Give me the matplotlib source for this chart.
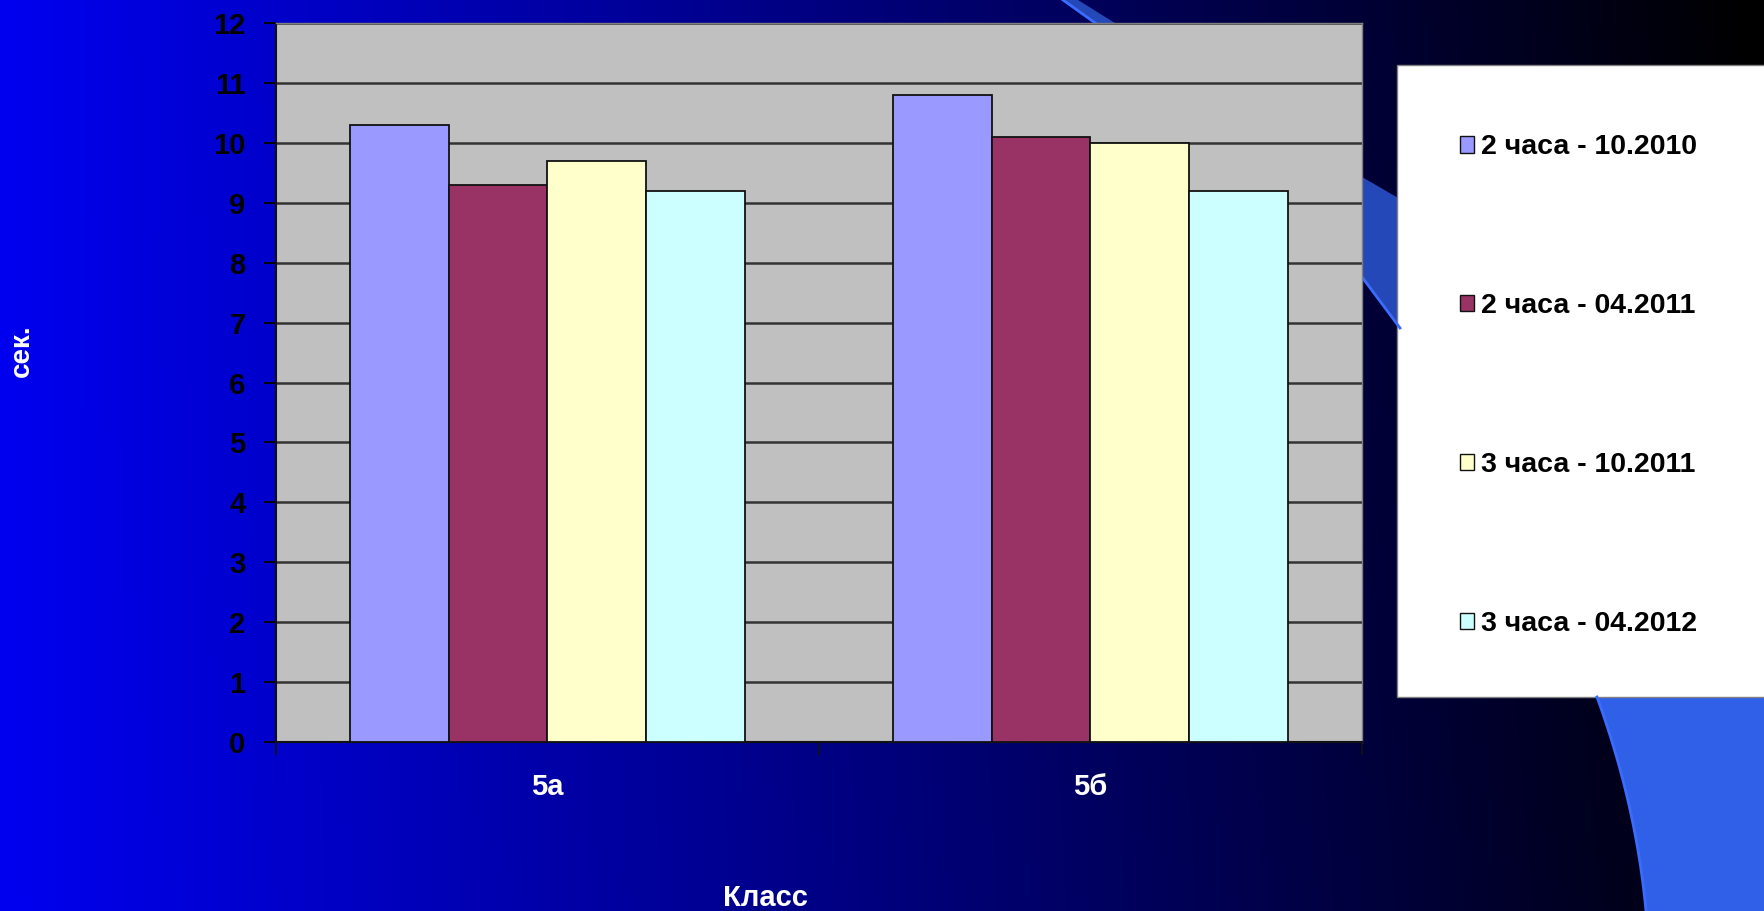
"""Grouped bar chart: reading speed by class, on a blue slide background."""
import matplotlib.pyplot as plt
import numpy as np
from matplotlib.patches import Polygon, Rectangle

plt.rcParams['font.family'] = ['Liberation Sans', 'DejaVu Sans']
plt.rcParams['font.weight'] = 'bold'

categories = ['5а', '5б']
series_labels = ['2 часа - 10.2010', '2 часа - 04.2011',
                 '3 часа - 10.2011', '3 часа - 04.2012']
values = [
    [10.3, 10.8],
    [9.3, 10.1],
    [9.7, 10.0],
    [9.2, 9.2],
]
colors = ['#9999FF', '#993366', '#FFFFCC', '#CCFFFF']
y_ticks = list(range(0, 13))

W, H = 1765, 911
fig = plt.figure(figsize=(W / 100, H / 100), dpi=100)

# background: horizontal gradient plus decorative swooshes (pixel coords)
bg = fig.add_axes([0, 0, 1, 1], zorder=0)
bg.set_xlim(0, W)
bg.set_ylim(H, 0)
bg.axis('off')
xs = np.linspace(0, 1, 400)
yy = np.linspace(0, 1, 50)[:, None]
blue = 240 - 230 * xs[None, :] - 12 * (1 - yy) * xs[None, :]
grad = np.zeros((50, 400, 3))
grad[..., 2] = np.clip(blue, 0, 255) / 255
bg.imshow(grad, extent=[0, W, H, 0], aspect='auto', interpolation='bilinear')

swoosh = [(1078, 0), (1362, 177), (1400, 199), (1400, 328), (1362, 277),
          (1250, 150), (1150, 62), (1063, 0)]
bg.add_patch(Polygon(swoosh, closed=True, facecolor='#2448B8', edgecolor='none'))
bg.plot([1063, 1150, 1250, 1362, 1400], [0, 62, 150, 277, 328],
        color='#3A6CFF', lw=2)
# big arc at lower right
t = np.linspace(0, 1, 30)
arc_y = 697 + 214 * t
arc_x = 1597 + 78 * t - 29 * t ** 2
bg.add_patch(Polygon(list(zip(arc_x, arc_y)) + [(W, 911), (W, 697)], closed=True,
                     facecolor='#3060E8', edgecolor='none'))
bg.plot(arc_x, arc_y, color='#3A6CFF', lw=2)
bg.add_patch(Rectangle((1397, 65), W - 1397 + 5, 632, facecolor='white',
                       edgecolor='#808080', lw=1))

# chart
ax = fig.add_axes([276 / W, 1 - 742 / H, (1362 - 276) / W, (742 - 23) / H], zorder=2)
ax.set_facecolor('#C0C0C0')
x = np.arange(len(categories))
width = 1 / 5.5
for i, (vals, lab, col) in enumerate(zip(values, series_labels, colors)):
    ax.bar(x + (i - 1.5) * width, vals, width, color=col, edgecolor='#111111',
           linewidth=1.3, label=lab, zorder=3)

ax.set_xlim(-0.5, len(categories) - 0.5)
ax.set_ylim(0, 12)
ax.set_yticks(y_ticks)
ax.yaxis.grid(True, color='#333333', lw=1.8, zorder=1)
ax.set_axisbelow(True)
ax.tick_params(axis='y', direction='out', length=9, width=1.3, pad=13,
               labelsize=21, labelcolor='black')
ax.set_xticks(x)
ax.set_xticklabels(categories)
ax.set_xticks(np.arange(-0.5, len(categories)), minor=True)
ax.tick_params(axis='x', which='major', length=0, pad=22, labelsize=21,
               labelcolor='white')
ax.tick_params(axis='x', which='minor', direction='out', length=9, width=1.3,
               color='#111111')
for s in ['left', 'bottom']:
    ax.spines[s].set_color('#111111')
    ax.spines[s].set_linewidth(1.5)
for s in ['top', 'right']:
    ax.spines[s].set_color('#808080')
    ax.spines[s].set_linewidth(1)

fig.text(765 / W, 1 - 898 / H, 'Класс', color='white', fontsize=21,
         ha='center', va='center')
fig.text(22 / W, 1 - 351 / H, 'сек.', color='white', fontsize=20,
         rotation=90, ha='center', va='center')

handles, labels = ax.get_legend_handles_labels()
leg = fig.legend(handles, labels, loc='upper left',
                 bbox_to_anchor=(1460 / W, 1 - 134.5 / H), frameon=False,
                 fontsize=20.5, labelspacing=4.67, handlelength=0.5,
                 handleheight=0.5, handletextpad=0.25, borderpad=0,
                 borderaxespad=0)
leg.set_zorder(3)
for h in leg.legend_handles:
    h.set_edgecolor('#111111')
    h.set_linewidth(1)

fig.savefig('out.png', dpi=100)
